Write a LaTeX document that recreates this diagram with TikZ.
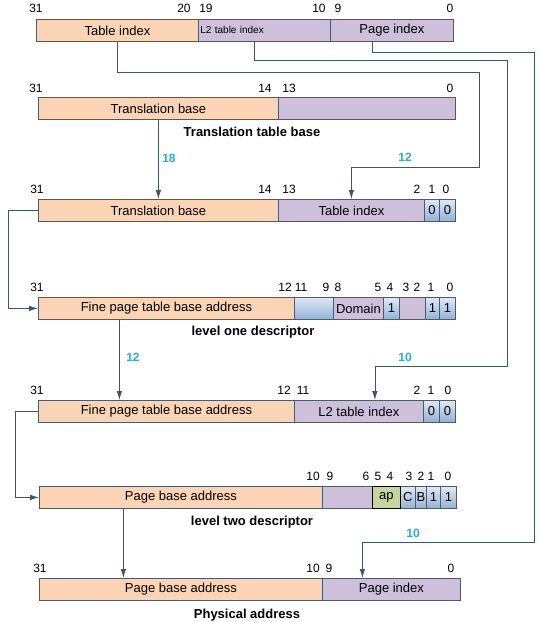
\documentclass[tikz,border=0pt]{standalone}
\usepackage{fontspec}
\setmainfont{Liberation Sans}
\usetikzlibrary{arrows.meta}

\definecolor{peach}{RGB}{250,212,180}
\definecolor{lilac}{RGB}{204,192,218}
\definecolor{flagtop}{RGB}{222,233,246}
\definecolor{flagbot}{RGB}{146,177,214}
\definecolor{apgreen}{RGB}{195,214,155}
\definecolor{frame}{RGB}{78,90,106}
\definecolor{wirec}{RGB}{60,86,112}
\definecolor{numblue}{RGB}{49,170,205}

\tikzset{
  cell/.style={draw=frame, line width=0.8pt, minimum height=22pt, inner sep=0pt,
               anchor=north west, font=\fontsize{13}{15}\selectfont},
  base/.style={cell, fill=peach},
  idx/.style={cell, fill=lilac},
  flag/.style={cell, top color=flagtop, bottom color=flagbot},
  apf/.style={cell, fill=apgreen, draw=black},
  bit/.style={font=\fontsize{12}{14}\selectfont, inner sep=0pt},
  regtitle/.style={font=\bfseries\fontsize{13}{15}\selectfont, inner sep=0pt},
  num/.style={font=\bfseries\fontsize{12}{14}\selectfont, text=numblue, inner sep=0pt},
  wire/.style={draw=wirec, line width=0.8pt, -{Latex[length=9pt,width=5.5pt]}}
}

\begin{document}
\begin{tikzpicture}[x=1pt,y=-1pt]
\useasboundingbox (0,0) rectangle (538,622);
% virtual address
\node[base,minimum width=162pt] (va-ti) at (36,19) {Table index};
\node[idx,minimum width=132pt,text width=128pt,align=left,font=\fontsize{10}{12}\selectfont] (va-l2) at (198,19) {L2 table index};
\node[idx,minimum width=123pt] (va-pi) at (330,19) {Page index};
\foreach \x/\b [count=\k] in {36/31,184/20,206/19,319/10,338/9,450/0}
  \node[bit] (va-n\k) at (\x,8) {\b};
% translation table base
\node[base,minimum width=240pt] (ttb-base) at (38,97) {Translation base};
\node[idx,minimum width=177pt] (ttb-low) at (278,97) {};
\foreach \x/\b [count=\k] in {36/31,265/14,289/13,450/0}
  \node[bit] (ttb-n\k) at (\x,88) {\b};
\node[regtitle] (ttb-cap) at (252,132) {Translation table base};
% level one index
\node[base,minimum width=240pt] (l1i-base) at (38,199) {Translation base};
\node[idx,minimum width=146pt] (l1i-idx) at (278,199) {Table index};
\node[flag,minimum width=15pt] (l1i-b1) at (424,199) {0};
\node[flag,minimum width=16pt] (l1i-b0) at (439,199) {0};
\foreach \x/\b [count=\k] in {37/31,265/14,289/13,417/2,432/1,446/0}
  \node[bit] (l1i-n\k) at (\x,189.5) {\b};
% level one descriptor
\node[base,minimum width=256pt] (d1-base) at (38,297) {Fine page table base address};
\node[flag,minimum width=39pt] (d1-sbz) at (294,297) {};
\node[idx,minimum width=50pt] (d1-dom) at (333,297) {Domain};
\node[flag,minimum width=16pt] (d1-b4) at (383,297) {1};
\node[idx,minimum width=26pt] (d1-imp) at (399,297) {};
\node[flag,minimum width=14pt] (d1-b1) at (425,297) {1};
\node[flag,minimum width=16pt] (d1-b0) at (439,297) {1};
\foreach \x/\b [count=\k] in {37/31,285/12,301/11,326/9,338/8,378/5,390/4,406/3,417/2,431/1,450/0}
  \node[bit] (d1-n\k) at (\x,287.5) {\b};
\node[regtitle] (d1-cap) at (253,332) {level one descriptor};
% level two index
\node[base,minimum width=256pt] (l2i-base) at (38,400) {Fine page table base address};
\node[idx,minimum width=129pt] (l2i-idx) at (294,400) {L2 table index};
\node[flag,minimum width=16pt] (l2i-b1) at (423,400) {0};
\node[flag,minimum width=16pt] (l2i-b0) at (439,400) {0};
\foreach \x/\b [count=\k] in {37/31,284/12,303/11,417/2,431/1,448/0}
  \node[bit] (l2i-n\k) at (\x,390.5) {\b};
% level two descriptor
\node[base,minimum width=283pt] (d2-base) at (39,486) {Page base address};
\node[idx,minimum width=50pt] (d2-sbz) at (322,486) {};
\node[flag,minimum width=15pt] (d2-c) at (400,486) {C};
\node[flag,minimum width=11pt] (d2-b) at (415,486) {B};
\node[flag,minimum width=14pt] (d2-b1) at (426,486) {1};
\node[flag,minimum width=16pt] (d2-b0) at (440,486) {1};
\node[apf,minimum width=28pt] (d2-ap) at (372,486) {ap};
\foreach \x/\b [count=\k] in {313/10,330/9,366/6,378/5,390/4,409/3,421/2,431/1,448/0}
  \node[bit] (d2-n\k) at (\x,476) {\b};
\node[regtitle] (d2-cap) at (252,522) {level two descriptor};
% physical address
\node[base,minimum width=283pt] (pa-base) at (39,578) {Page base address};
\node[idx,minimum width=138pt] (pa-pi) at (322,578) {Page index};
\foreach \x/\b [count=\k] in {40/31,313/10,329/9,451/0}
  \node[bit] (pa-n\k) at (\x,568.5) {\b};
\node[regtitle] (pa-cap) at (247,615) {Physical address};

% connectors
\coordinate (l2out) at ([xshift=-10pt]va-l2.south);
\coordinate (piout) at ([xshift=-20pt]va-pi.south);
\coordinate (l2in) at ([xshift=16pt]l2i-idx.north);
\coordinate (piin) at ([xshift=-29pt]pa-pi.north);
\coordinate (fpout) at ([xshift=-47pt]d1-base.south);
\coordinate (pbout) at ([xshift=-57.5pt]d2-base.south);

\draw[wire] (ttb-base.south) -- (l1i-base.north);
\node[num] (n18) at (169,158) {18};
\draw[wire] (va-ti.south) |- (479,72) |- (l1i-idx.north |- 0,167) -- (l1i-idx.north);
\node[num] (n12a) at (405,157) {12};
\draw[wire] (l1i-base.west) -- ++(-30,0) |- (d1-base.west);
\draw[wire] (fpout) -- (fpout |- l2i-base.north);
\node[num] (n12b) at (133,357) {12};
\draw[wire] (l2out) |- (507,60) |- (l2in |- 0,366) -- (l2in);
\node[num] (n10a) at (405,357) {10};
\draw[wire] (l2i-base.west) -- ++(-23,0) |- (d2-base.west);
\draw[wire] (pbout) -- (pbout |- pa-base.north);
\draw[wire] (piout) |- (534,52) |- (piin |- 0,542) -- (piin);
\node[num] (n10b) at (413,533) {10};
\end{tikzpicture}
\end{document}
